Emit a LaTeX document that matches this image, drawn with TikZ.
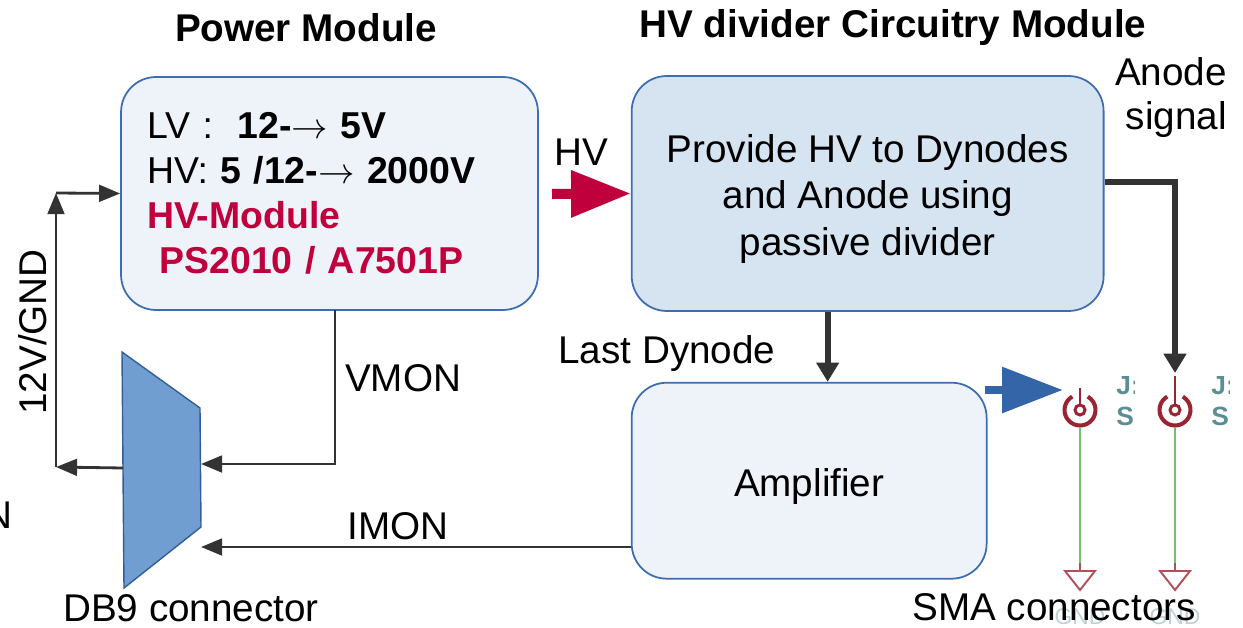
\documentclass[tikz,border=0pt]{standalone}
\usepackage{fontspec}
\setmainfont{Liberation Sans}
\usetikzlibrary{arrows.meta, calc, positioning, shapes.geometric}

\definecolor{boxblue}{HTML}{3D6DB0}
\definecolor{lightfill}{HTML}{EEF3F9}
\definecolor{hvfill}{HTML}{D6E4F2}
\definecolor{hvred}{HTML}{C0003C}
\definecolor{arrowblue}{HTML}{3465A9}
\definecolor{dbblue}{HTML}{709ED1}
\definecolor{darkline}{HTML}{333333}
\definecolor{schred}{HTML}{9B2432}
\definecolor{schgreen}{HTML}{72C072}
\definecolor{schteal}{HTML}{5A8E95}

\begin{document}
\begin{tikzpicture}[
  x=0.02cm, y=-0.02cm,
  font=\fontsize{22}{26.5}\selectfont,
  module/.style={draw=boxblue, line width=1pt, rounded corners=0.7cm, minimum width=8.34cm, minimum height=4.66cm, fill=lightfill},
  divider/.style={draw=boxblue, line width=1pt, rounded corners=0.7cm, align=center, minimum width=9.44cm, minimum height=4.7cm, fill=hvfill},
  amp/.style={draw=boxblue, line width=1pt, rounded corners=0.7cm, align=center, minimum width=7.1cm, minimum height=3.92cm, fill=lightfill},
  title/.style={font=\fontsize{22}{26.5}\selectfont\bfseries},
  thinarrow/.style={-{Triangle[length=12pt,width=9.5pt]}, line width=1.6pt, draw=darkline},
  thickarrow/.style={-{Triangle[length=11pt,width=12.5pt]}, line width=3.4pt, draw=darkline},
  hvarrow/.style={-{Triangle[length=34pt,width=25.5pt]}, line width=5.7pt, draw=hvred},
  bluearrow/.style={-{Triangle[length=34.6pt,width=25pt]}, line width=5.1pt, draw=arrowblue},
  db9/.style={draw=boxblue!85!black, line width=0.8pt, fill=dbblue},
  schlabel/.style={font=\fontsize{15}{17}\selectfont\bfseries, text=schteal, inner sep=0pt, anchor=west}
]
\useasboundingbox (0,0) rectangle (1243,628);

% Titles
\node[title] (powtitle) at (306,28) {Power Module};
\node[title] (hvtitle) at (893,28) {HV divider Circuitry Module};

% Modules
\node[module, text width=7.3cm, align=left, inner xsep=0.52cm, font=\fontsize{21.3}{25.5}\selectfont] (power) at (329.5,193.5)
  {LV :~~\textbf{12-}$\rightarrow$ \textbf{5V}\\
   HV: \textbf{5 /12-}$\rightarrow$ \textbf{2000V}\\
   \textcolor{hvred}{\textbf{HV-Module}}\\
   \textcolor{hvred}{\textbf{~PS2010 / A7501P}}};
\node[divider, right=1.84cm of power] (hv) {\rule{0pt}{22pt}Provide HV to Dynodes\\and Anode using\\passive divider};
\node[amp, below right=1.4cm and 0cm of hv.south west] (amp) {\rule{0pt}{22pt}Amplifier};

% DB9 connector
\draw[db9] (122,352) -- (200,408) -- (201,527) -- (124,588) -- cycle;
\coordinate (db9w) at (123,468);
\coordinate (db9vmon) at (201,464);
\coordinate (db9imon) at (201,547);
\node (db9label) at (191,608) {DB9 connector};

% SMA connectors
\foreach \sx/\ltop in {1080/388, 1175/376} {
  \draw[schred, line width=1.6pt] (\sx,\ltop) -- (\sx,405);
  \draw[schred, line width=1.7pt] (\sx,410) circle[radius=0.1cm];
  \draw[schred, line width=2.3pt] (\sx,410) ++(120:0.31cm) arc[start angle=120, end angle=420, radius=0.31cm];
  \draw[schgreen, line width=1.3pt] (\sx,427) -- (\sx,563);
  \draw[schred!80, line width=1.1pt] (\sx,563) -- (\sx,571);
  \draw[schred!80, line width=1.1pt] (\sx-15,571) -- (\sx+15,571) -- (\sx,590) -- cycle;
  \begin{scope}
    \clip (\sx+30,376) rectangle (\sx+54,440);
    \node[schlabel] at (\sx+36,386) {J:};
    \node[schlabel] at (\sx+36,416) {S};
  \end{scope}
  \node[font=\fontsize{13}{15}\selectfont, text=schteal!40, inner sep=0pt] at (\sx,617) {GND};
}
\coordinate (smaL) at (1063,390);
\coordinate (smaR) at (1175,373);
\node (smalabel) at (1054,607) {SMA connectors};

% Labels
\node (hvlabel) at (581,152) {HV};
\node (lastdyn) at (667,354) {Last Dynode};
\node (vmonlabel) at (403,378) {VMON};
\node (imonlabel) at (398,526) {IMON};
\node[align=right, anchor=east, font=\fontsize{22}{25.5}\selectfont] (anodelabel) at (1233,97.5) {Anode\\signal};
\node[rotate=90] (gndlabel) at (33,332) {12V/GND};
\node[anchor=east, inner sep=0pt] (cutn) at (13,515) {N};

% Arrows
\coordinate (hvtail) at (552,194);
\draw[hvarrow] (hvtail) -- (hv.west);
\coordinate (bluetail) at (985,390);
\draw[bluearrow] (bluetail) -- (smaL);
\draw[thickarrow] ([yshift=0.23cm]hv.east) -| (smaR);
\draw[thickarrow] ([xshift=-0.8cm]hv.south) -- ([xshift=-0.8cm]hv.south |- amp.north);

% Monitor lines
\coordinate (vmtop) at (335,310);
\draw[thinarrow] (vmtop) |- (db9vmon);
\draw[thinarrow] (db9imon -| amp.west) -- (db9imon);

% 12V/GND supply
\coordinate (gndlow) at (56,467);
\coordinate (gndtop) at (56,193);
\draw[thinarrow] (db9w) -- (gndlow);
\draw[thinarrow] (gndlow) -- (gndtop);
\draw[thinarrow] (gndtop) -- (power.west);

\end{tikzpicture}
\end{document}
